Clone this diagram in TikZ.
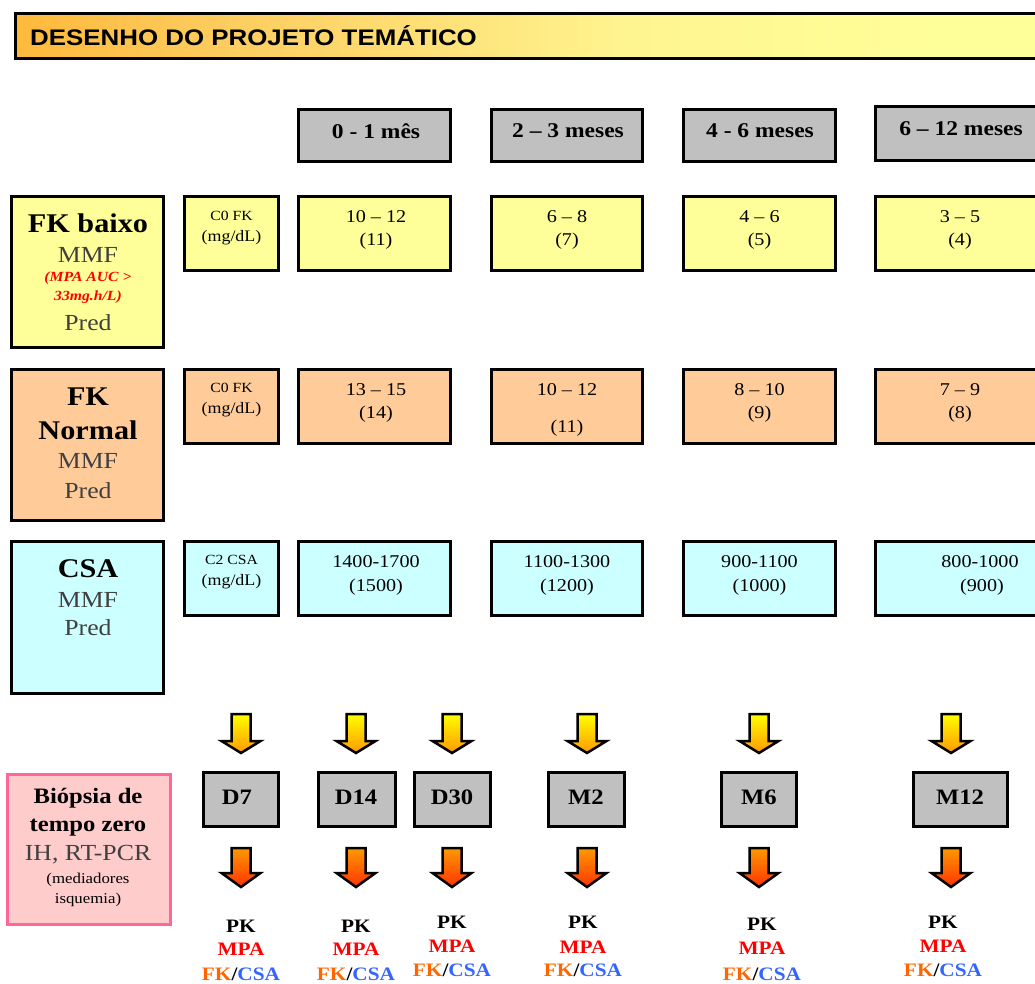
\documentclass[tikz,border=0pt]{standalone}
\usepackage{fontspec}
\setmainfont{Liberation Serif}[FakeStretch=1.12]
\newfontfamily\arialf{Liberation Sans}[FakeStretch=1.15]
\definecolor{hdrgray}{HTML}{C0C0C0}
\definecolor{yel}{HTML}{FFFF99}
\definecolor{peach}{HTML}{FFCC99}
\definecolor{cyanl}{HTML}{CCFFFF}
\definecolor{pinkf}{HTML}{FFCCCC}
\definecolor{pinkb}{HTML}{FF6699}
\definecolor{tgray}{HTML}{404040}
\definecolor{fkor}{HTML}{FF6600}
\definecolor{csabl}{HTML}{3366FF}
\definecolor{titleor}{HTML}{FF9900}
\definecolor{titlemid}{HTML}{FDCC5E}
\definecolor{titlelt}{HTML}{FFF590}
\definecolor{aryel}{HTML}{FFFF00}
\definecolor{arora}{HTML}{FF9900}
\definecolor{arred}{HTML}{FF3300}
\pgfdeclarehorizontalshading{titlesh}{100bp}{color(0bp)=(titleor); color(8bp)=(titleor); color(35bp)=(titlemid); color(55bp)=(titlelt); color(70bp)=(yel); color(100bp)=(yel)}
\newcommand\fs[1]{\fontsize{#1}{#1}\selectfont}
% box: name, x1, y1, x2, y2 (outer), fill
\newcommand\bx[6]{\node[box, fill=#6, minimum width={#4-#2-3}, minimum height={#5-#3-3}] (#1) at ({(#2+#4)/2},{(#3+#5)/2}) {};}
% text line: name, x, y, font, text
\newcommand\tl[5]{\node[lbl, font=#4] (#1) at (#2,#3) {#5};}
% block arrow: x, ytop, yhead, ytip, top colour, bottom colour
\newcommand\dnarrow[6]{\shadedraw[line width=2.5pt, line join=miter, top color=#5, bottom color=#6] (#1-9.5,#2) -- (#1+9.5,#2) -- (#1+9.5,#3) -- (#1+19.5,#3) -- (#1,#4) -- (#1-19.5,#3) -- (#1-9.5,#3) -- cycle;}
\begin{document}
\begin{tikzpicture}[x=1pt,y=-1pt,
  box/.style={draw, line width=3pt, rectangle, inner sep=0pt},
  lbl/.style={inner sep=0pt, anchor=center}]
\useasboundingbox (0,0) rectangle (1035,983);
\clip (0,0) rectangle (1035,983);
% title
\node[draw, line width=3pt, shade, shading=titlesh, minimum width=1032, minimum height=45, inner sep=0pt] (titlebar) at (531,36) {};
\node[anchor=west, inner sep=0pt, font=\arialf\bfseries\fs{22.5}] (title) at (30,36) {DESENHO DO PROJETO TEMÁTICO};
% headers
\bx{h1}{297}{108}{452}{163}{hdrgray}
\bx{h2}{490}{108}{644}{163}{hdrgray}
\bx{h3}{682}{108}{837}{163}{hdrgray}
\bx{h4}{874}{105}{1046}{162}{hdrgray}
\tl{h1t}{376}{131}{\bfseries\fs{21}}{0 - 1 mês}
\tl{h2t}{568}{131}{\bfseries\fs{21}}{2 – 3 meses}
\tl{h3t}{760}{131}{\bfseries\fs{21}}{4 - 6 meses}
\tl{h4t}{961}{129}{\bfseries\fs{21}}{6 – 12 meses}
% row 1 : FK baixo
\bx{r1}{10}{195}{165}{349}{yel}
\tl{r1a}{88}{223}{\bfseries\fs{27}}{FK baixo}
\tl{r1b}{88}{255}{\color{tgray}\fs{23}}{MMF}
\tl{r1c}{88}{278}{\color{red}\bfseries\itshape\fs{14}}{(MPA AUC >}
\tl{r1d}{88}{297}{\color{red}\bfseries\itshape\fs{14}}{33mg.h/L)}
\tl{r1e}{88}{323}{\color{tgray}\fs{23}}{Pred}
\bx{c1}{183}{195}{280}{272}{yel}
\tl{c1a}{231.5}{216}{\fs{14}}{C0 FK}
\tl{c1b}{231.5}{238}{\fs{16}}{(mg/dL)}
\bx{d11}{297}{195}{452}{272}{yel}
\bx{d12}{490}{195}{644}{272}{yel}
\bx{d13}{682}{195}{837}{272}{yel}
\bx{d14}{874}{195}{1046}{272}{yel}
\tl{d11a}{376}{217}{\fs{18}}{10 – 12}
\tl{d11b}{376}{241}{\fs{18}}{(11)}
\tl{d12a}{567}{217}{\fs{18}}{6 – 8}
\tl{d12b}{567}{241}{\fs{18}}{(7)}
\tl{d13a}{759.5}{217}{\fs{18}}{4 – 6}
\tl{d13b}{759.5}{241}{\fs{18}}{(5)}
\tl{d14a}{960}{217}{\fs{18}}{3 – 5}
\tl{d14b}{960}{241}{\fs{18}}{(4)}
% row 2 : FK Normal
\bx{r2}{10}{368}{165}{522}{peach}
\tl{r2a}{88}{397}{\bfseries\fs{27}}{FK}
\tl{r2b}{88}{430}{\bfseries\fs{27}}{Normal}
\tl{r2c}{88}{461}{\color{tgray}\fs{23}}{MMF}
\tl{r2d}{88}{491}{\color{tgray}\fs{23}}{Pred}
\bx{c2}{183}{368}{280}{445}{peach}
\tl{c2a}{231.5}{388}{\fs{14}}{C0 FK}
\tl{c2b}{231.5}{410}{\fs{16}}{(mg/dL)}
\bx{d21}{297}{368}{452}{445}{peach}
\bx{d22}{490}{368}{644}{445}{peach}
\bx{d23}{682}{368}{837}{445}{peach}
\bx{d24}{874}{368}{1046}{445}{peach}
\tl{d21a}{376}{390}{\fs{18}}{13 – 15}
\tl{d21b}{376}{414}{\fs{18}}{(14)}
\tl{d22a}{567}{390}{\fs{18}}{10 – 12}
\tl{d22b}{567}{428}{\fs{18}}{(11)}
\tl{d23a}{759.5}{390}{\fs{18}}{8 – 10}
\tl{d23b}{759.5}{414}{\fs{18}}{(9)}
\tl{d24a}{960}{390}{\fs{18}}{7 – 9}
\tl{d24b}{960}{414}{\fs{18}}{(8)}
% row 3 : CSA
\bx{r3}{10}{540}{165}{695}{cyanl}
\tl{r3a}{88}{569}{\bfseries\fs{27}}{CSA}
\tl{r3b}{88}{600}{\color{tgray}\fs{23}}{MMF}
\tl{r3c}{88}{628}{\color{tgray}\fs{23}}{Pred}
\bx{c3}{183}{540}{280}{617}{cyanl}
\tl{c3a}{231.5}{560}{\fs{14}}{C2 CSA}
\tl{c3b}{231.5}{582}{\fs{16}}{(mg/dL)}
\bx{d31}{297}{540}{452}{617}{cyanl}
\bx{d32}{490}{540}{644}{617}{cyanl}
\bx{d33}{682}{540}{837}{617}{cyanl}
\bx{d34}{874}{540}{1046}{617}{cyanl}
\tl{d31a}{376}{562}{\fs{18}}{1400-1700}
\tl{d31b}{376}{587}{\fs{18}}{(1500)}
\tl{d32a}{567}{562}{\fs{18}}{1100-1300}
\tl{d32b}{567}{587}{\fs{18}}{(1200)}
\tl{d33a}{759.5}{562}{\fs{18}}{900-1100}
\tl{d33b}{759.5}{587}{\fs{18}}{(1000)}
\tl{d34a}{980}{562}{\fs{18}}{800-1000}
\tl{d34b}{982}{587}{\fs{18}}{(900)}
% biopsy box
\node[draw=pinkb, fill=pinkf, line width=3pt, minimum width=163, minimum height=150, inner sep=0pt] (bio) at (88.5,849.5) {};
\tl{bioa}{88}{798}{\bfseries\fs{22}}{Biópsia de}
\tl{biob}{88}{828}{\bfseries\fs{22}}{tempo zero}
\tl{bioc}{88}{855}{\color{tgray}\fs{23}}{IH, RT-PCR}
\tl{biod}{88}{880}{\fs{15}}{(mediadores}
\tl{bioe}{88}{900}{\fs{15}}{isquemia)}
% time points
\bx{t1}{202}{771}{280}{828}{hdrgray}
\bx{t2}{317}{771}{397}{828}{hdrgray}
\bx{t3}{413}{771}{492}{828}{hdrgray}
\bx{t4}{547}{771}{626}{828}{hdrgray}
\bx{t5}{720}{771}{798}{828}{hdrgray}
\bx{t6}{912}{771}{1009}{828}{hdrgray}
\tl{t1t}{237}{797}{\bfseries\fs{22}}{D7}
\tl{t2t}{356}{797}{\bfseries\fs{22}}{D14}
\tl{t3t}{452}{797}{\bfseries\fs{22}}{D30}
\tl{t4t}{586}{797}{\bfseries\fs{22}}{M2}
\tl{t5t}{759}{797}{\bfseries\fs{22}}{M6}
\tl{t6t}{960}{797}{\bfseries\fs{22}}{M12}
% arrows
\foreach \ax in {241,356,452,587,759,951}{
  \dnarrow{\ax}{714}{741}{753}{aryel}{arora}
  \dnarrow{\ax}{848}{873}{887}{arora}{arred}
}
% PK labels
\tl{p1a}{241}{926}{\bfseries\fs{19}}{PK}
\tl{p1b}{241}{949}{\color{red}\bfseries\fs{19}}{MPA}
\tl{p1c}{241}{974}{\bfseries\fs{19}}{\textcolor{fkor}{FK}/\textcolor{csabl}{CSA}}
\tl{p2a}{356}{926}{\bfseries\fs{19}}{PK}
\tl{p2b}{356}{949}{\color{red}\bfseries\fs{19}}{MPA}
\tl{p2c}{356}{974}{\bfseries\fs{19}}{\textcolor{fkor}{FK}/\textcolor{csabl}{CSA}}
\tl{p3a}{452}{922}{\bfseries\fs{19}}{PK}
\tl{p3b}{452}{946}{\color{red}\bfseries\fs{19}}{MPA}
\tl{p3c}{452}{970}{\bfseries\fs{19}}{\textcolor{fkor}{FK}/\textcolor{csabl}{CSA}}
\tl{p4a}{583}{922}{\bfseries\fs{19}}{PK}
\tl{p4b}{583}{947}{\color{red}\bfseries\fs{19}}{MPA}
\tl{p4c}{583}{970}{\bfseries\fs{19}}{\textcolor{fkor}{FK}/\textcolor{csabl}{CSA}}
\tl{p5a}{762}{924}{\bfseries\fs{19}}{PK}
\tl{p5b}{762}{948}{\color{red}\bfseries\fs{19}}{MPA}
\tl{p5c}{762}{974}{\bfseries\fs{19}}{\textcolor{fkor}{FK}/\textcolor{csabl}{CSA}}
\tl{p6a}{943}{922}{\bfseries\fs{19}}{PK}
\tl{p6b}{943}{946}{\color{red}\bfseries\fs{19}}{MPA}
\tl{p6c}{943}{970}{\bfseries\fs{19}}{\textcolor{fkor}{FK}/\textcolor{csabl}{CSA}}
\end{tikzpicture}
\end{document}
